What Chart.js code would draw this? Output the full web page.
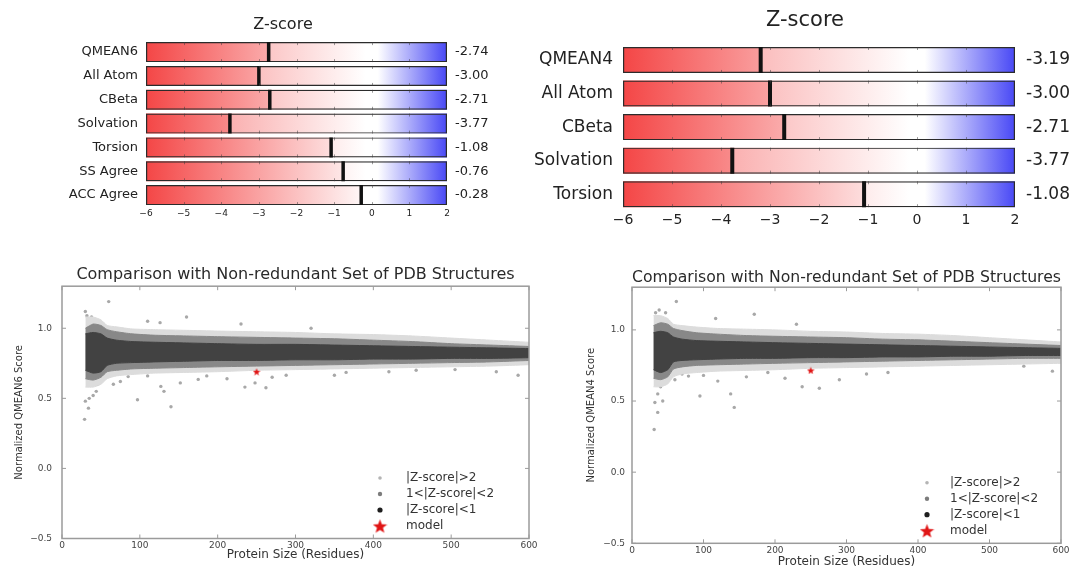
<!DOCTYPE html>
<html>
<head>
<meta charset="utf-8">
<script src="https://cdn.jsdelivr.net/npm/chart.js@4.4.1/dist/chart.umd.min.js"></script>
<style>
html,body{margin:0;padding:0;background:#fff;overflow:hidden;}
body{width:1074px;height:566px;position:relative;}
.box{position:absolute;}
</style>
</head>
<body>
<div class="box" style="left:30px;top:0px;width:506px;height:232px"><canvas id="zLeft"></canvas></div>
<div class="box" style="left:520px;top:0px;width:570px;height:235px"><canvas id="zRight"></canvas></div>
<div class="box" style="left:0px;top:255px;width:540px;height:311px"><canvas id="sLeft"></canvas></div>
<div class="box" style="left:540px;top:255px;width:534px;height:317px"><canvas id="sRight"></canvas></div>
<script>
// ---------------- data ----------------
const Z_MIN = -6, Z_MAX = 2;
const Z_TICKS = [-6, -5, -4, -3, -2, -1, 0, 1, 2];

const Z6_LABELS = ['QMEAN6', 'All Atom', 'CBeta', 'Solvation', 'Torsion', 'SS Agree', 'ACC Agree'];
const Z6_VALUES = [-2.74, -3.00, -2.71, -3.77, -1.08, -0.76, -0.28];
const Z6_VALUE_LABELS = ['-2.74', '-3.00', '-2.71', '-3.77', '-1.08', '-0.76', '-0.28'];

const Z4_LABELS = ['QMEAN4', 'All Atom', 'CBeta', 'Solvation', 'Torsion'];
const Z4_VALUES = [-3.19, -3.00, -2.71, -3.77, -1.08];
const Z4_VALUE_LABELS = ['-3.19', '-3.00', '-2.71', '-3.77', '-1.08'];

const SIZE_TICKS = [0, 100, 200, 300, 400, 500, 600];
const SCORE_TICKS = [-0.5, 0.0, 0.5, 1.0];
const LEGEND_LABELS = ['|Z-score|>2', '1<|Z-score|<2', '|Z-score|<1', 'model'];

// envelopes of the dense point cloud
const BAND_X = [30, 40, 50, 58, 70, 90, 120, 160, 200, 250, 300, 350, 400, 450, 500, 550, 600];

const Q6_CORE_UP = [0.96, 0.97, 0.96, 0.93, 0.915, 0.905, 0.90, 0.895, 0.89, 0.885, 0.885, 0.88, 0.875, 0.87, 0.865, 0.86, 0.855];
const Q6_CORE_LO = [0.70, 0.68, 0.69, 0.735, 0.75, 0.755, 0.76, 0.765, 0.77, 0.77, 0.775, 0.775, 0.78, 0.78, 0.785, 0.785, 0.79];
const Q6_MID_UP = [1.00, 1.03, 1.02, 0.99, 0.975, 0.96, 0.95, 0.945, 0.94, 0.935, 0.93, 0.925, 0.915, 0.905, 0.89, 0.88, 0.87];
const Q6_MID_LO = [0.64, 0.63, 0.65, 0.69, 0.70, 0.71, 0.715, 0.72, 0.725, 0.73, 0.735, 0.74, 0.745, 0.75, 0.755, 0.76, 0.77];
const Q6_HALO_UP = [1.08, 1.08, 1.06, 1.02, 1.01, 0.995, 0.99, 0.985, 0.98, 0.975, 0.97, 0.96, 0.955, 0.945, 0.93, 0.915, 0.90];
const Q6_HALO_LO = [0.58, 0.58, 0.60, 0.64, 0.66, 0.67, 0.68, 0.685, 0.69, 0.70, 0.705, 0.71, 0.715, 0.72, 0.725, 0.73, 0.74];
const Q6_OUTLIERS = [[60,1.19],[30,1.12],[32,1.09],[38,1.08],[42,1.05],[110,1.05],[126,1.04],[160,1.08],[29,0.35],[34,0.43],
  [30,0.48],[35,0.50],[40,0.52],[44,0.55],[46,0.60],[66,0.60],[97,0.49],[140,0.44],[131,0.55],[127,0.585],[152,0.61],
  [186,0.66],[212,0.64],[235,0.58],[262,0.575],[248,0.61],[288,0.665],[350,0.665],[365,0.685],[505,0.705],[558,0.69],
  [586,0.665],[36,0.66],[52,0.64],[75,0.62],[85,0.655],[230,1.03],[270,0.65],[320,1.0],[420,0.69],[110,0.66],[175,0.635],[455,0.70]];
const Q6_MODEL = [250, 0.69];

const Q4_CORE_UP = [0.98, 0.99, 0.98, 0.95, 0.935, 0.925, 0.92, 0.915, 0.91, 0.905, 0.90, 0.895, 0.89, 0.885, 0.88, 0.875, 0.87];
const Q4_CORE_LO = [0.72, 0.70, 0.72, 0.775, 0.785, 0.79, 0.795, 0.80, 0.80, 0.805, 0.805, 0.81, 0.81, 0.815, 0.815, 0.82, 0.82];
const Q4_MID_UP = [1.03, 1.05, 1.04, 1.01, 0.995, 0.98, 0.97, 0.96, 0.955, 0.95, 0.945, 0.935, 0.93, 0.92, 0.91, 0.90, 0.89];
const Q4_MID_LO = [0.66, 0.65, 0.67, 0.725, 0.74, 0.75, 0.755, 0.76, 0.765, 0.77, 0.775, 0.78, 0.785, 0.79, 0.795, 0.80, 0.80];
const Q4_HALO_UP = [1.10, 1.10, 1.08, 1.04, 1.03, 1.02, 1.01, 1.005, 1.00, 0.99, 0.985, 0.975, 0.97, 0.96, 0.945, 0.93, 0.915];
const Q4_HALO_LO = [0.60, 0.60, 0.62, 0.67, 0.69, 0.70, 0.71, 0.715, 0.72, 0.73, 0.735, 0.74, 0.745, 0.75, 0.755, 0.76, 0.765];
const Q4_OUTLIERS = [[62,1.20],[33,1.12],[38,1.14],[47,1.12],[50,1.06],[171,1.11],[117,1.08],[31,0.30],[32,0.49],[36,0.42],
  [43,0.50],[36,0.55],[143,0.455],[95,0.535],[138,0.55],[238,0.60],[262,0.59],[214,0.66],[290,0.65],[328,0.69],[358,0.70],
  [548,0.745],[588,0.71],[51,0.70],[60,0.65],[70,0.69],[79,0.675],[100,0.68],[160,0.67],[190,0.70],[40,0.60],[45,0.63],[230,1.04],[120,0.64]];
const Q4_MODEL = [250, 0.715];

// ---------------- styles ----------------
const FONT = "'DejaVu Sans', 'Liberation Sans', sans-serif";
const FULL_STOPS = [[0, 'rgb(244,70,70)'], [0.75, 'rgb(255,255,255)'], [1, 'rgb(70,70,244)']];
const LIGHT_STOPS = [[0, 'rgb(247,128,128)'], [0.73, 'rgb(255,255,255)'], [0.77, 'rgb(255,255,255)'], [1, 'rgb(72,72,245)']];
const CORE = '#424242', MID = '#888888', HALO = '#dcdcdc', OUT = '#a8a8a8', RED = '#e01515';
const LEGEND_DOTS = [['#b4b4b4', 1.8], ['#7c7c7c', 2.2], ['#1e1e1e', 2.6]];

function starImage(size, color) {
  const c = document.createElement('canvas');
  c.width = size; c.height = size;
  const g = c.getContext('2d');
  g.fillStyle = color; g.beginPath();
  const cx = size / 2, cy = size / 2 + size * 0.05, R = size / 2, r = R * 0.42;
  for (let i = 0; i < 10; i++) {
    const rad = i % 2 ? r : R, a = -Math.PI / 2 + i * Math.PI / 5;
    g.lineTo(cx + rad * Math.cos(a), cy + rad * Math.sin(a));
  }
  g.closePath(); g.fill();
  return c;
}
const STAR_SMALL = starImage(8, RED);
const STAR_BIG = starImage(15, RED);

function grad(c, stops) {
  const ch = c.chart;
  if (!ch.chartArea) return 'rgba(0,0,0,0)';
  const xs = ch.scales.x;
  const g = ch.ctx.createLinearGradient(xs.getPixelForValue(Z_MIN), 0, xs.getPixelForValue(Z_MAX), 0);
  stops.forEach(([p, col]) => g.addColorStop(p, col));
  return g;
}

const barTicks = {
  id: 'barTicks',
  afterDatasetsDraw(chart) {
    const meta = chart.getDatasetMeta(2);
    const xs = chart.scales.x, ctx = chart.ctx;
    ctx.save();
    ctx.strokeStyle = 'rgba(60,60,60,0.5)'; ctx.lineWidth = 1;
    meta.data.forEach(el => {
      const {y, height} = el.getProps(['y', 'height'], true);
      const t = y - height / 2, b = y + height / 2;
      ctx.beginPath();
      Z_TICKS.slice(1, -1).forEach(v => {
        const px = Math.round(xs.getPixelForValue(v)) + 0.5;
        ctx.moveTo(px, t); ctx.lineTo(px, t + 3);
        ctx.moveTo(px, b); ctx.lineTo(px, b - 3);
      });
      ctx.stroke();
    });
    ctx.restore();
  }
};

function zChart(id, labels, values, valueLabels, o) {
  const common = {grouped: false, barPercentage: o.bar, categoryPercentage: 1};
  return new Chart(document.getElementById(id), {
    type: 'bar',
    data: {
      labels: labels,
      datasets: [
        Object.assign({label: 'score', data: values.map(v => [Z_MIN, v]), backgroundColor: c => grad(c, FULL_STOPS), borderWidth: 0, order: 3}, common),
        Object.assign({label: 'rest', data: values.map(v => [v, Z_MAX]), backgroundColor: c => grad(c, LIGHT_STOPS), borderWidth: 0, order: 3}, common),
        Object.assign({label: 'frame', data: values.map(() => [Z_MIN, Z_MAX]), backgroundColor: 'rgba(0,0,0,0)', borderColor: '#2b2b2b', borderWidth: 1.2, borderSkipped: false, order: 2}, common),
        {type: 'scatter', label: 'Z-score', data: values.map((v, i) => ({x: v, y: labels[i]})), xAxisID: 'x', yAxisID: 'y',
         pointStyle: 'line', pointRotation: 90, pointRadius: o.mark, pointHoverRadius: o.mark, pointBorderWidth: o.markW,
         pointBorderColor: '#111', pointBackgroundColor: '#111', order: 1}
      ]
    },
    options: {
      indexAxis: 'y', responsive: true, maintainAspectRatio: false, animation: false,
      layout: {padding: 0},
      plugins: {
        legend: {display: false}, tooltip: {enabled: false},
        title: {display: true, text: 'Z-score', color: '#222', font: {family: FONT, size: o.titleSize, weight: 'normal'}, padding: o.titlePad}
      },
      scales: {
        x: {type: 'linear', min: Z_MIN, max: Z_MAX,
            afterBuildTicks: s => { s.ticks = Z_TICKS.map(v => ({value: v})); },
            ticks: {callback: v => String(v).replace('-', '\u2212'), font: {family: FONT, size: o.xSize}, color: '#222', padding: o.xPad, maxRotation: 0},
            grid: {display: false, drawTicks: false}, border: {display: false},
            afterFit: s => { s.height = o.xH; }},
        y: {type: 'category', position: 'left', offset: true,
            ticks: {font: {family: FONT, size: o.labelSize}, color: '#222', padding: o.yPad},
            grid: {display: false, drawTicks: false}, border: {display: false},
            afterFit: s => { s.width = o.yW; }},
        y2: {type: 'category', position: 'right', offset: true, labels: valueLabels,
             ticks: {font: {family: FONT, size: o.valueSize}, color: '#222', padding: o.y2Pad},
             grid: {display: false, drawTicks: false}, border: {display: false},
             afterFit: s => { s.width = o.y2W; }}
      }
    },
    plugins: [barTicks]
  });
}

const framePlugin = {
  id: 'frame',
  afterDatasetsDraw(chart) {
    const {ctx, chartArea: a, scales: {x, y}} = chart;
    ctx.save();
    ctx.strokeStyle = '#9b9b9b'; ctx.lineWidth = 1.5;
    ctx.strokeRect(a.left, a.top, a.right - a.left, a.bottom - a.top);
    ctx.lineWidth = 1; ctx.beginPath();
    x.ticks.forEach(t => { const p = x.getPixelForValue(t.value); ctx.moveTo(p, a.bottom); ctx.lineTo(p, a.bottom - 4); ctx.moveTo(p, a.top); ctx.lineTo(p, a.top + 4); });
    y.ticks.forEach(t => { const p = y.getPixelForValue(t.value); ctx.moveTo(a.left, p); ctx.lineTo(a.left + 4, p); ctx.moveTo(a.right, p); ctx.lineTo(a.right - 4, p); });
    ctx.stroke();
    ctx.restore();
  }
};

const legendPlugin = {
  id: 'insideLegend',
  afterDraw(chart, args, o) {
    const {ctx, chartArea: a} = chart;
    const n = LEGEND_LABELS.length;
    ctx.save();
    ctx.font = o.size + 'px ' + FONT; ctx.textBaseline = 'middle'; ctx.textAlign = 'left';
    LEGEND_LABELS.forEach((lab, i) => {
      const yy = a.bottom - o.bottom - (n - 1 - i) * o.gap;
      const mx = a.right - o.markerX;
      if (i === n - 1) {
        ctx.drawImage(STAR_BIG, mx - STAR_BIG.width / 2, yy - STAR_BIG.height / 2);
      } else {
        ctx.fillStyle = LEGEND_DOTS[i][0];
        ctx.beginPath(); ctx.arc(mx, yy, LEGEND_DOTS[i][1], 0, Math.PI * 2); ctx.fill();
      }
      ctx.fillStyle = '#333';
      ctx.fillText(lab, a.right - o.textX, yy);
    });
    ctx.restore();
  }
};

function scoreChart(id, yTitle, bands, outliers, model, o) {
  const pts = ys => BAND_X.map((x, i) => ({x: x, y: ys[i]}));
  const band = (label, ys, color, fill) => ({type: 'line', label: label, data: pts(ys), borderColor: color, backgroundColor: color,
    borderWidth: 1, pointRadius: 0, pointHoverRadius: 0, fill: fill, tension: 0.2});
  return new Chart(document.getElementById(id), {
    type: 'scatter',
    data: {
      datasets: [
        {type: 'scatter', label: LEGEND_LABELS[3], data: [{x: model[0], y: model[1]}], pointStyle: STAR_SMALL, pointRadius: 4},
        band(LEGEND_LABELS[2], bands[0], CORE, '+1'),
        band(LEGEND_LABELS[2], bands[1], CORE, false),
        band(LEGEND_LABELS[1], bands[2], MID, '+1'),
        band(LEGEND_LABELS[1], bands[3], MID, false),
        band(LEGEND_LABELS[0], bands[4], HALO, '+1'),
        band(LEGEND_LABELS[0], bands[5], HALO, false),
        {type: 'scatter', label: LEGEND_LABELS[0], data: outliers.map(([x, y]) => ({x: x, y: y})), pointRadius: 1.7,
         pointBackgroundColor: OUT, backgroundColor: OUT, pointBorderWidth: 0}
      ]
    },
    options: {
      responsive: true, maintainAspectRatio: false, animation: false,
      layout: {padding: {left: 0, right: o.padRight, top: 0, bottom: 0}},
      plugins: {
        legend: {display: false}, tooltip: {enabled: false},
        title: {display: true, fullSize: false, text: 'Comparison with Non-redundant Set of PDB Structures', color: '#2a2a2a',
                font: {family: FONT, size: 16, weight: 'normal'}, padding: o.titlePad},
        insideLegend: o.legend
      },
      scales: {
        x: {type: 'linear', min: 0, max: 600,
            afterBuildTicks: s => { s.ticks = SIZE_TICKS.map(v => ({value: v})); },
            ticks: {font: {family: FONT, size: 9}, color: '#444', padding: o.xPad, maxRotation: 0},
            grid: {display: false, drawTicks: false}, border: {display: false},
            title: {display: true, text: 'Protein Size (Residues)', color: '#333', font: {family: FONT, size: 12}, padding: {top: 0, bottom: o.xTitlePad}},
            afterFit: s => { s.height = o.xH; }},
        y: {type: 'linear', min: -0.5, max: 1.3,
            afterBuildTicks: s => { s.ticks = SCORE_TICKS.map(v => ({value: v})); },
            ticks: {callback: v => v.toFixed(1).replace('-', '\u2212'), font: {family: FONT, size: 9}, color: '#444', padding: o.yPad},
            grid: {display: false, drawTicks: false}, border: {display: false},
            title: {display: true, text: yTitle, color: '#333', font: {family: FONT, size: 10}, padding: {top: o.yTitlePad, bottom: 0}},
            afterFit: s => { s.width = o.yW; }}
      }
    },
    plugins: [framePlugin, legendPlugin]
  });
}

zChart('zLeft', Z6_LABELS, Z6_VALUES, Z6_VALUE_LABELS, {
  titleSize: 16, titlePad: {top: 15, bottom: 6}, labelSize: 13, valueSize: 13, xSize: 9, xPad: 1, xH: 25,
  yW: 116, yPad: 8, y2W: 89, y2Pad: 8, bar: 0.84, mark: 10, markW: 3.5
});
zChart('zRight', Z4_LABELS, Z4_VALUES, Z4_VALUE_LABELS, {
  titleSize: 21, titlePad: {top: 8, bottom: 10}, labelSize: 17, valueSize: 17, xSize: 14, xPad: 1, xH: 24,
  yW: 103, yPad: 10, y2W: 75, y2Pad: 11, bar: 0.774, mark: 13, markW: 4
});
scoreChart('sLeft', 'Normalized QMEAN6 Score',
  [Q6_CORE_UP, Q6_CORE_LO, Q6_MID_UP, Q6_MID_LO, Q6_HALO_UP, Q6_HALO_LO], Q6_OUTLIERS, Q6_MODEL, {
  padRight: 11, titlePad: {top: 10, bottom: 2}, xPad: 2, xTitlePad: 4, xH: 27.5, yPad: 10, yTitlePad: 13, yW: 62,
  legend: {size: 12, bottom: 12.5, gap: 16, markerX: 149, textX: 123}
});
scoreChart('sRight', 'Normalized QMEAN4 Score',
  [Q4_CORE_UP, Q4_CORE_LO, Q4_MID_UP, Q4_MID_LO, Q4_HALO_UP, Q4_HALO_LO], Q4_OUTLIERS, Q4_MODEL, {
  padRight: 13, titlePad: {top: 13, bottom: 0}, xPad: 2, xTitlePad: 3, xH: 28.7, yPad: 7, yTitlePad: 45, yW: 92,
  legend: {size: 12, bottom: 12.6, gap: 16, markerX: 134, textX: 111}
});
</script>
</body>
</html>
